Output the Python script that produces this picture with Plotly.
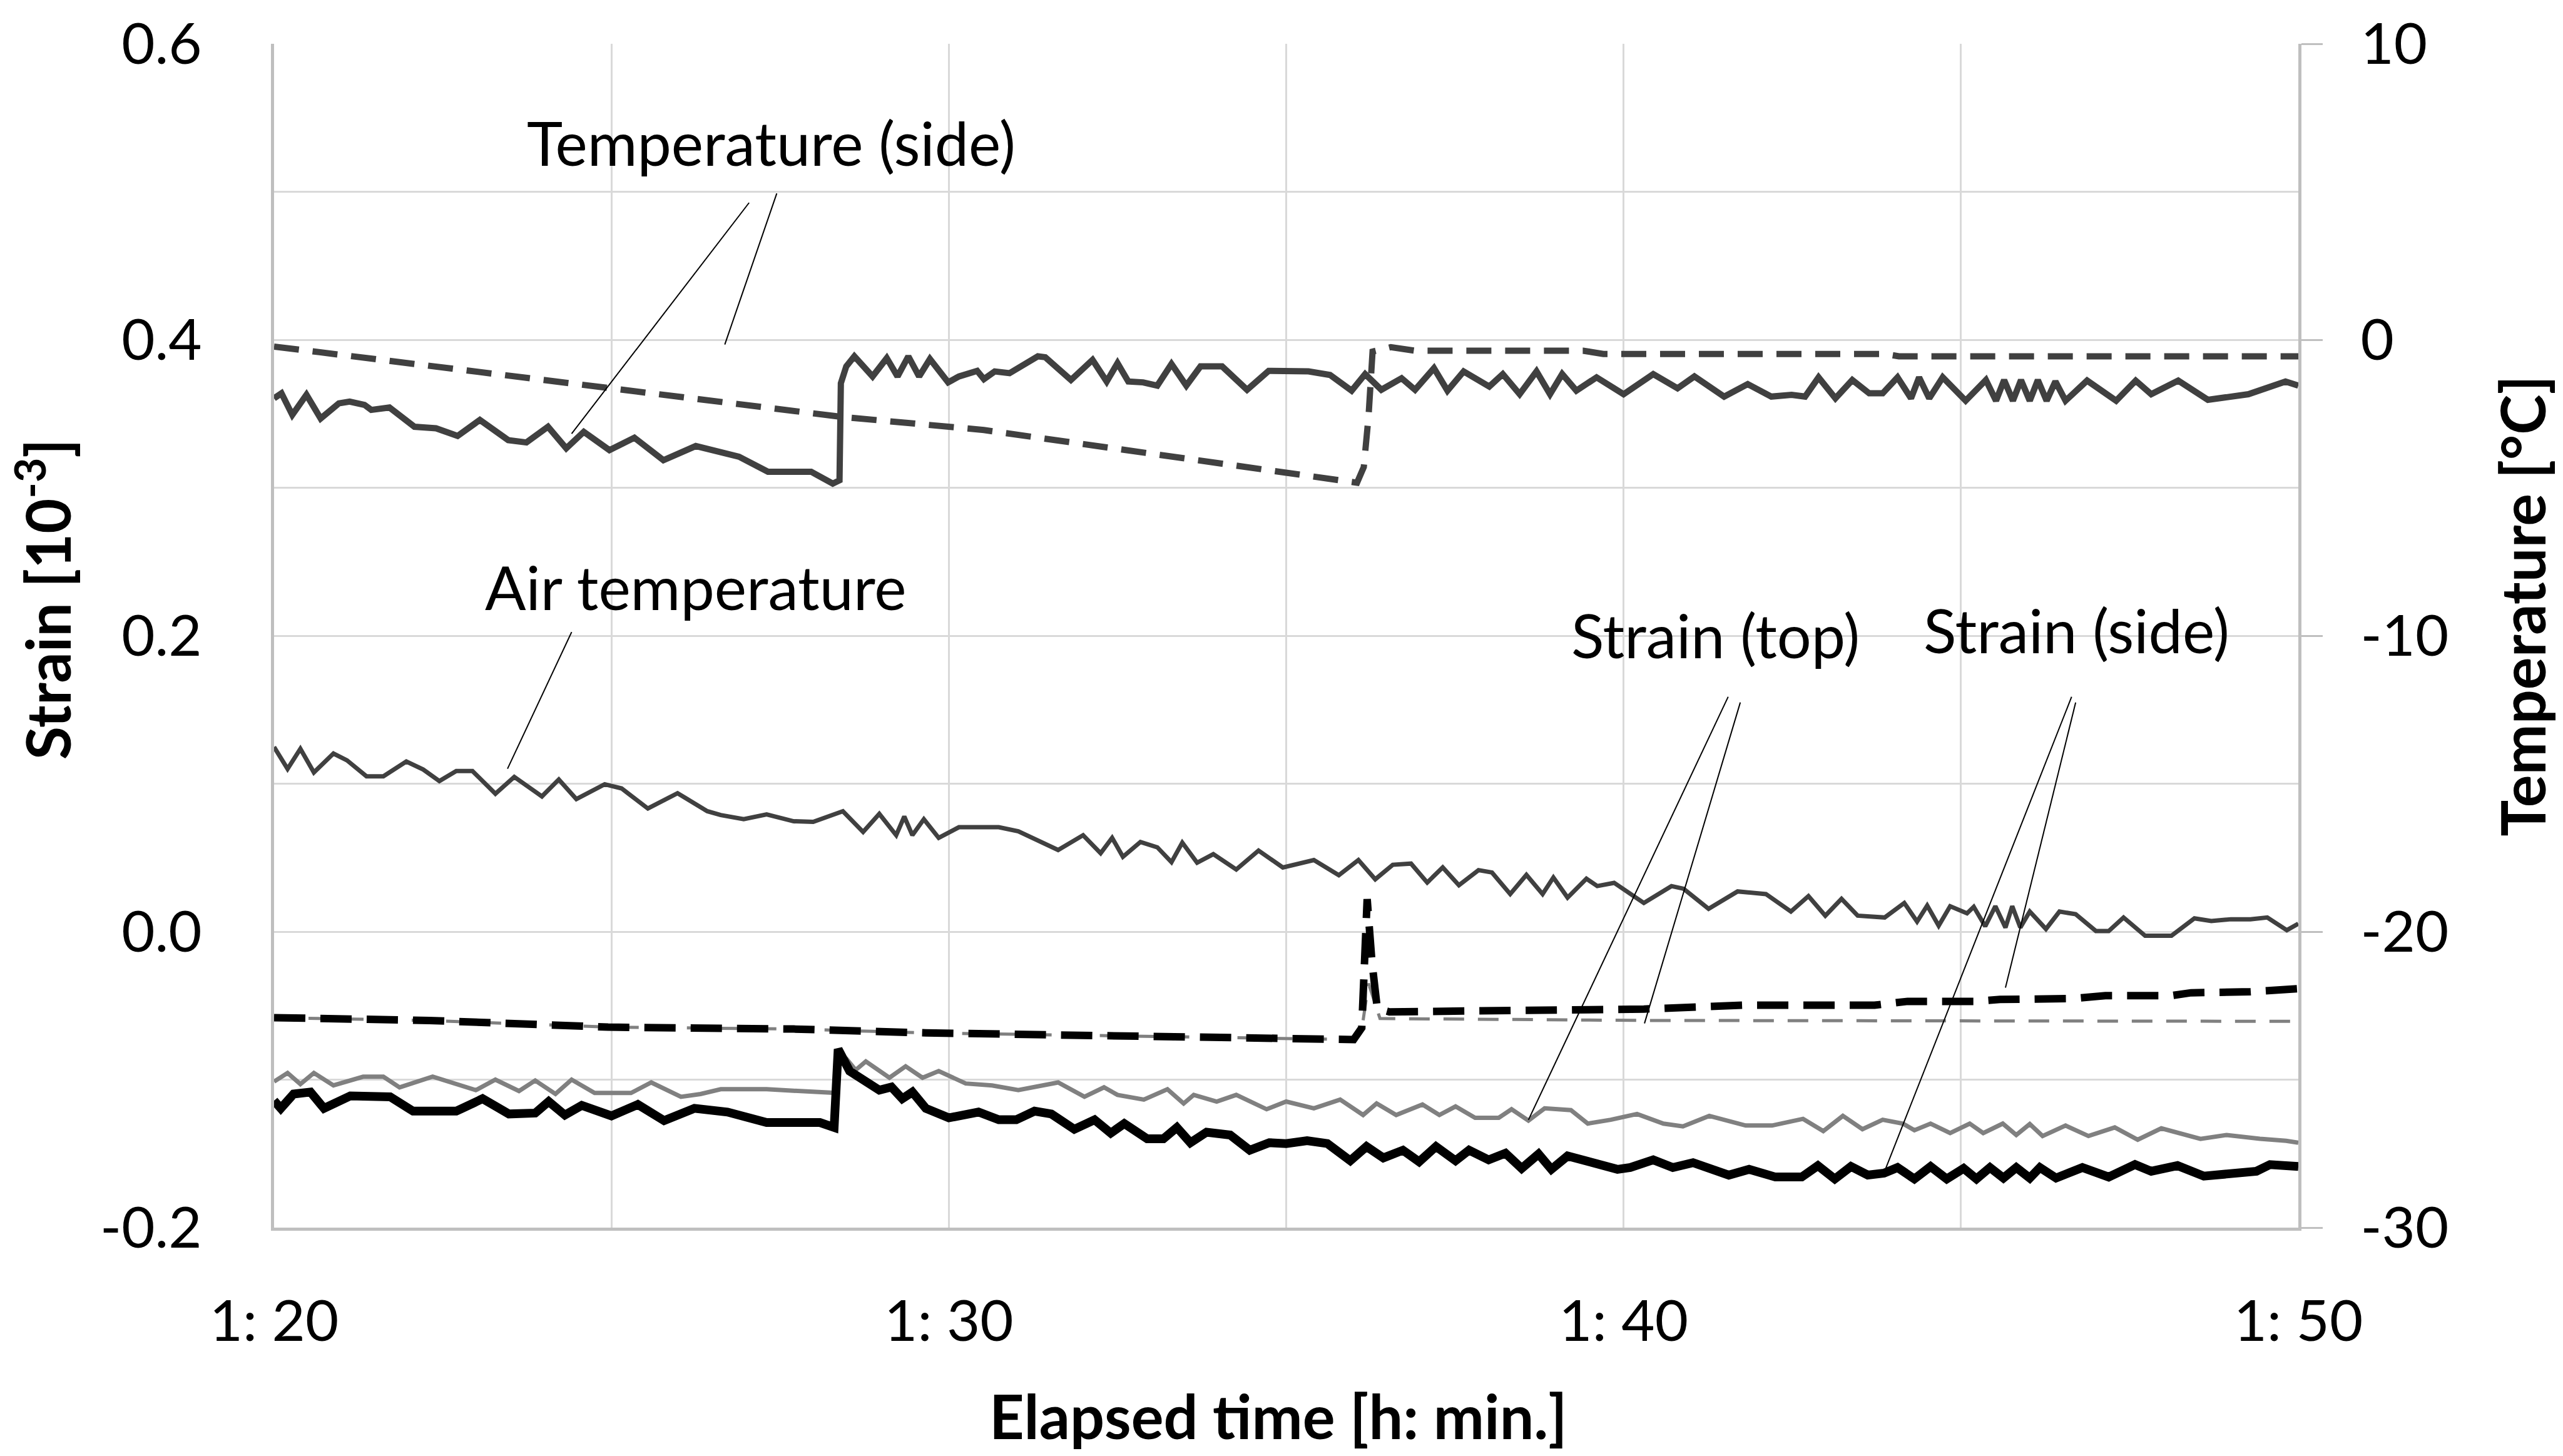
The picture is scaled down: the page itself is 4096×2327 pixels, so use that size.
import plotly.graph_objects as go

# ---------------- data (time = minutes after 1:20) ----------------
temp_side_solid_t = [0, 0.11, 0.27, 0.48, 0.69, 0.96, 1.12, 1.34, 1.44, 1.71, 2.08, 2.40, 2.72, 3.05, 3.47, 3.74,
                     4.06, 4.33, 4.59, 4.97, 5.34, 5.77, 6.25, 6.57, 6.89, 7.32, 7.96, 8.28, 8.38, 8.40, 8.48,
                     8.60, 8.87, 9.08, 9.24, 9.40, 9.56, 9.72, 9.99, 10.15, 10.42, 10.52, 10.68, 10.90, 11.32,
                     11.43, 11.81, 12.13, 12.34, 12.50, 12.66, 12.88, 13.09, 13.30, 13.52, 13.73, 14.05, 14.42,
                     14.74, 15.33, 15.65, 15.97, 16.17, 16.41, 16.71, 16.91, 17.19, 17.39, 17.63, 18.01, 18.21,
                     18.46, 18.71, 18.91, 19.09, 19.30, 19.60, 20.00, 20.44, 20.80, 21.05, 21.49, 21.84, 22.19,
                     22.49, 22.69, 22.89, 23.14, 23.39, 23.64, 23.84, 24.06, 24.26, 24.38, 24.53, 24.73, 25.07,
                     25.37, 25.52, 25.64, 25.77, 25.89, 26.02, 26.14, 26.27, 26.40, 26.55, 26.87, 27.30, 27.59,
                     27.82, 28.22, 28.66, 29.26, 29.81, 30.0]
temp_side_solid = [-1.98, -1.81, -2.54, -1.86, -2.66, -2.15, -2.09, -2.20, -2.37, -2.29, -2.94, -2.99, -3.25, -2.71,
                   -3.39, -3.47, -2.94, -3.67, -3.11, -3.73, -3.31, -4.07, -3.59, -3.79, -3.95, -4.46, -4.46, -4.86,
                   -4.75, -1.47, -0.90, -0.56, -1.24, -0.62, -1.24, -0.56, -1.24, -0.65, -1.44, -1.24, -1.05, -1.33,
                   -1.07, -1.13, -0.56, -0.59, -1.36, -0.68, -1.41, -0.79, -1.41, -1.44, -1.55, -0.82, -1.55, -0.90,
                   -0.90, -1.69, -1.05, -1.07, -1.19, -1.72, -1.16, -1.69, -1.30, -1.69, -0.96, -1.72, -1.07, -1.58,
                   -1.16, -1.84, -1.07, -1.84, -1.16, -1.72, -1.27, -1.84, -1.16, -1.64, -1.24, -1.92, -1.50, -1.92,
                   -1.86, -1.92, -1.27, -1.98, -1.36, -1.81, -1.81, -1.27, -1.98, -1.27, -1.98, -1.27, -2.06, -1.36,
                   -2.06, -1.36, -2.06, -1.36, -2.06, -1.36, -2.06, -1.41, -2.06, -1.38, -2.06, -1.38, -1.84, -1.38,
                   -2.03, -1.84, -1.41, -1.55]

temp_side_dash_t = [0, 4.97, 8.39, 10.52, 15.87, 16.05, 16.15, 16.22, 16.28, 16.55, 16.91, 19.40, 19.70, 23.88,
                    24.08, 30.0]
temp_side_dash = [-0.23, -1.64, -2.60, -3.05, -4.75, -4.83, -4.30, -2.60, -0.40, -0.25, -0.37, -0.37, -0.48,
                  -0.48, -0.56, -0.56]

air_temp_t = [0, 0.20, 0.39, 0.59, 0.88, 1.08, 1.37, 1.62, 1.96, 2.21, 2.45, 2.70, 2.94, 3.28, 3.56, 3.97, 4.22,
              4.48, 4.90, 5.15, 5.54, 5.98, 6.42, 6.62, 6.96, 7.30, 7.70, 7.99, 8.43, 8.73, 8.97, 9.22, 9.34,
              9.46, 9.63, 9.85, 10.15, 10.74, 11.03, 11.62, 11.99, 12.25, 12.42, 12.58, 12.84, 13.09, 13.30,
              13.46, 13.68, 13.92, 14.26, 14.59, 14.95, 15.41, 15.78, 16.07, 16.32, 16.58, 16.85, 17.09, 17.32,
              17.56, 17.85, 18.05, 18.32, 18.56, 18.80, 18.96, 19.17, 19.45, 19.61, 19.86, 20.30, 20.71, 20.89,
              21.26, 21.69, 22.11, 22.48, 22.74, 22.99, 23.23, 23.47, 23.87, 24.16, 24.35, 24.50, 24.67, 24.84,
              25.09, 25.19, 25.36, 25.51, 25.66, 25.76, 25.88, 26.02, 26.26, 26.46, 26.70, 27.00, 27.19, 27.41,
              27.73, 28.12, 28.46, 28.71, 29.00, 29.29, 29.54, 29.83, 30.0]
air_temp = [-13.76, -14.50, -13.82, -14.62, -13.98, -14.21, -14.75, -14.75, -14.25, -14.52, -14.91, -14.57, -14.57,
            -15.34, -14.77, -15.43, -14.86, -15.52, -15.02, -15.16, -15.84, -15.32, -15.93, -16.06, -16.20, -16.04,
            -16.27, -16.29, -15.93, -16.63, -16.02, -16.74, -16.11, -16.74, -16.20, -16.83, -16.47, -16.47, -16.61,
            -17.24, -16.74, -17.35, -16.83, -17.47, -16.97, -17.15, -17.65, -16.99, -17.67, -17.38, -17.90, -17.26,
            -17.83, -17.58, -18.09, -17.58, -18.23, -17.74, -17.70, -18.34, -17.83, -18.43, -17.92, -18.00, -18.73,
            -18.08, -18.73, -18.17, -18.85, -18.21, -18.46, -18.35, -19.03, -18.46, -18.55, -19.23, -18.64, -18.73,
            -19.32, -18.80, -19.46, -18.89, -19.46, -19.52, -19.03, -19.66, -19.12, -19.80, -19.14, -19.38, -19.16,
            -19.82, -19.14, -19.86, -19.14, -19.86, -19.32, -19.91, -19.32, -19.41, -19.98, -19.98, -19.52, -20.14,
            -20.14, -19.55, -19.64, -19.58, -19.58, -19.52, -19.95, -19.73]

strain_top_solid_t = [0, 0.20, 0.39, 0.59, 0.88, 1.32, 1.62, 1.86, 2.35, 2.99, 3.28, 3.63, 3.87, 4.17, 4.41, 4.75,
                      5.29, 5.59, 6.03, 6.32, 6.62, 7.30, 7.70, 8.28, 8.34, 8.38, 8.48, 8.62, 8.77, 9.12, 9.36,
                      9.61, 9.85, 10.25, 10.64, 11.03, 11.62, 12.01, 12.30, 12.50, 12.89, 13.24, 13.48, 13.63,
                      13.97, 14.26, 14.71, 15.00, 15.41, 15.80, 16.14, 16.34, 16.63, 17.02, 17.27, 17.51, 17.80,
                      18.15, 18.34, 18.59, 18.83, 19.22, 19.47, 19.81, 20.20, 20.59, 20.88, 21.27, 21.81, 22.20,
                      22.66, 22.96, 23.25, 23.54, 23.84, 24.14, 24.31, 24.55, 24.84, 25.13, 25.33, 25.62, 25.82,
                      26.02, 26.21, 26.55, 26.89, 27.28, 27.62, 27.97, 28.55, 28.94, 29.43, 29.82, 30.0]
strain_top_solid = [-0.1013, -0.0955, -0.1030, -0.0955, -0.1039, -0.0980, -0.0980, -0.1052, -0.0980, -0.1071,
                    -0.1000, -0.1077, -0.1006, -0.1097, -0.1000, -0.1090, -0.1090, -0.1019, -0.1116, -0.1097,
                    -0.1065, -0.1065, -0.1075, -0.1090, -0.1090, -0.0830, -0.0858, -0.0935, -0.0877, -0.0987,
                    -0.0910, -0.0987, -0.0942, -0.1026, -0.1039, -0.1071, -0.1019, -0.1116, -0.1052, -0.1103,
                    -0.1135, -0.1065, -0.1161, -0.1103, -0.1148, -0.1103, -0.1200, -0.1148, -0.1194, -0.1135,
                    -0.1239, -0.1161, -0.1239, -0.1168, -0.1239, -0.1181, -0.1258, -0.1258, -0.1200, -0.1277,
                    -0.1194, -0.1206, -0.1297, -0.1271, -0.1232, -0.1297, -0.1316, -0.1245, -0.1310, -0.1310,
                    -0.1265, -0.1348, -0.1245, -0.1335, -0.1271, -0.1297, -0.1342, -0.1297, -0.1361, -0.1297,
                    -0.1361, -0.1297, -0.1374, -0.1300, -0.1381, -0.1310, -0.1381, -0.1323, -0.1406, -0.1329,
                    -0.1400, -0.1374, -0.1400, -0.1413, -0.1426]

strain_side_solid_t = [0, 0.10, 0.29, 0.54, 0.74, 1.13, 1.72, 2.06, 2.70, 3.09, 3.48, 3.87, 4.07, 4.31, 4.56, 5.00,
                       5.39, 5.78, 6.23, 6.72, 7.30, 8.09, 8.30, 8.36, 8.53, 8.75, 8.97, 9.15, 9.31, 9.46, 9.66,
                       10.00, 10.44, 10.74, 11.00, 11.27, 11.52, 11.86, 12.16, 12.40, 12.60, 12.94, 13.18, 13.38,
                       13.58, 13.82, 14.17, 14.46, 14.75, 15.00, 15.31, 15.61, 15.95, 16.19, 16.44, 16.73, 16.97,
                       17.22, 17.51, 17.71, 18.00, 18.25, 18.49, 18.74, 18.93, 19.17, 19.42, 19.91, 20.10, 20.44,
                       20.73, 21.03, 21.56, 21.86, 22.25, 22.64, 22.88, 23.13, 23.37, 23.62, 23.86, 24.06, 24.31,
                       24.55, 24.79, 25.04, 25.23, 25.43, 25.63, 25.82, 26.02, 26.17, 26.41, 26.80, 27.19, 27.58,
                       27.82, 28.21, 28.60, 28.99, 29.38, 29.58, 30.0]
strain_side_solid = [-0.1142, -0.1194, -0.1097, -0.1084, -0.1194, -0.1110, -0.1116, -0.1213, -0.1213, -0.1129,
                     -0.1232, -0.1226, -0.1148, -0.1239, -0.1174, -0.1245, -0.1168, -0.1277, -0.1194, -0.1219,
                     -0.1290, -0.1290, -0.1323, -0.0794, -0.0942, -0.1010, -0.1071, -0.1050, -0.1129, -0.1084,
                     -0.1194, -0.1258, -0.1219, -0.1271, -0.1271, -0.1213, -0.1232, -0.1335, -0.1271, -0.1361,
                     -0.1297, -0.1400, -0.1400, -0.1323, -0.1426, -0.1355, -0.1374, -0.1477, -0.1426, -0.1432,
                     -0.1413, -0.1432, -0.1548, -0.1452, -0.1529, -0.1477, -0.1555, -0.1452, -0.1548, -0.1477,
                     -0.1542, -0.1497, -0.1600, -0.1503, -0.1606, -0.1516, -0.1542, -0.1606, -0.1594, -0.1542,
                     -0.1594, -0.1561, -0.1645, -0.1606, -0.1658, -0.1658, -0.1581, -0.1671, -0.1587, -0.1645,
                     -0.1632, -0.1594, -0.1671, -0.1587, -0.1671, -0.1600, -0.1671, -0.1594, -0.1665, -0.1594,
                     -0.1665, -0.1594, -0.1665, -0.1594, -0.1658, -0.1574, -0.1619, -0.1581, -0.1652, -0.1632,
                     -0.1619, -0.1574, -0.1587]

strain_side_dash_t = [0, 2.30, 4.95, 7.70, 9.66, 12.10, 15.00, 16.00, 16.12, 16.20, 16.27, 16.35, 16.53, 18.83,
                      20.30, 21.77, 23.72, 24.21, 25.19, 25.58, 26.65, 27.14, 28.12, 28.41, 29.29, 30.0]
strain_side_dash = [-0.0581, -0.0600, -0.0645, -0.0658, -0.0684, -0.0703, -0.0723, -0.0729, -0.0650, 0.0220,
                    -0.0200, -0.0520, -0.0542, -0.0535, -0.0523, -0.0497, -0.0497, -0.0471, -0.0471, -0.0458,
                    -0.0452, -0.0432, -0.0432, -0.0413, -0.0406, -0.0385]

strain_top_dash_t = [0, 2.30, 4.95, 7.70, 9.66, 12.10, 15.00, 16.00, 16.14, 16.22, 16.39, 20.30, 30.0]
strain_top_dash = [-0.0581, -0.0600, -0.0645, -0.0658, -0.0684, -0.0703, -0.0723, -0.0729, -0.0600, -0.0350,
                   -0.0587, -0.0600, -0.0606]

x_tick_vals = [0, 10, 20, 30]
x_tick_text = ["1: 20", "1: 30", "1: 40", "1: 50"]
strain_tick_vals = [-0.2, 0.0, 0.2, 0.4, 0.6]
strain_tick_text = ["-0.2", "0.0", "0.2", "0.4", "0.6"]
temp_tick_vals = [-30, -20, -10, 0, 10]
temp_tick_text = ["-30", "-20", "-10", "0", "10"]

# labels: (text, x, y)
labels = [("Temperature (side)", 7.37, 0.5335),
          ("Air temperature", 6.25, 0.233),
          ("Strain (top)", 21.36, 0.2005),
          ("Strain (side)", 26.71, 0.204)]
# leader lines: (x0, y0, x1, y1) in data coords (strain axis)
leaders = [(7.04, 0.4926, 4.41, 0.3365),
           (7.45, 0.4989, 6.68, 0.3968),
           (4.41, 0.2025, 3.46, 0.1101),
           (21.55, 0.1587, 18.59, -0.1272),
           (21.73, 0.1549, 20.31, -0.0620),
           (26.64, 0.1587, 23.86, -0.1629),
           (26.70, 0.1549, 25.66, -0.0378)]

FONT = "Lato"
DARK = "#404040"
GRAY = "#808080"
GRID = "#d9d9d9"
AXIS = "#bfbfbf"

fig = go.Figure()
fig.add_trace(go.Scatter(x=air_temp_t, y=air_temp, yaxis="y2", mode="lines",
                         line=dict(color=DARK, width=7)))
fig.add_trace(go.Scatter(x=temp_side_dash_t, y=temp_side_dash, yaxis="y2", mode="lines",
                         line=dict(color=DARK, width=10, dash="40px,22px")))
fig.add_trace(go.Scatter(x=temp_side_solid_t, y=temp_side_solid, yaxis="y2", mode="lines",
                         line=dict(color=DARK, width=10)))
fig.add_trace(go.Scatter(x=strain_top_dash_t, y=strain_top_dash, mode="lines",
                         line=dict(color=GRAY, width=5, dash="33px,22px")))
fig.add_trace(go.Scatter(x=strain_side_dash_t, y=strain_side_dash, mode="lines",
                         line=dict(color="#000000", width=12, dash="50px,24px")))
fig.add_trace(go.Scatter(x=strain_top_solid_t, y=strain_top_solid, mode="lines",
                         line=dict(color=GRAY, width=7)))
fig.add_trace(go.Scatter(x=strain_side_solid_t, y=strain_side_solid, mode="lines",
                         line=dict(color="#000000", width=14)))

for (x0, y0, x1, y1) in leaders:
    fig.add_shape(type="line", xref="x", yref="y", x0=x0, y0=y0, x1=x1, y1=y1,
                  line=dict(color="#000000", width=2))

for (txt, x, y) in labels:
    fig.add_annotation(text=txt, x=x, y=y, xref="x", yref="y", showarrow=False,
                       xanchor="center", yanchor="middle",
                       font=dict(family=FONT, size=97, color="#000000"))

TITLE_SIZE = 97
fig.add_annotation(text="<b>Strain [10<sup>-3</sup>]</b>", xref="paper", yref="paper",
                   x=-0.1138, y=0.531, textangle=-90, showarrow=False,
                   xanchor="center", yanchor="middle",
                   font=dict(family=FONT, size=TITLE_SIZE, color="#000000"))
fig.add_annotation(text="<b>Temperature [°C]</b>", xref="paper", yref="paper",
                   x=1.1107, y=0.525, textangle=-90, showarrow=False,
                   xanchor="center", yanchor="middle",
                   font=dict(family=FONT, size=TITLE_SIZE, color="#000000"))
fig.add_annotation(text="<b>Elapsed time [h: min.]</b>", xref="paper", yref="paper",
                   x=0.4961, y=-0.159, showarrow=False,
                   xanchor="center", yanchor="middle",
                   font=dict(family=FONT, size=TITLE_SIZE, color="#000000"))

TICK = dict(family=FONT, size=92, color="#000000")
fig.update_layout(
    width=4096, height=2327, autosize=False,
    margin=dict(l=438, r=423, t=70, b=365, pad=0),
    paper_bgcolor="white", plot_bgcolor="white",
    showlegend=False,
    font=dict(family=FONT, size=92, color="#000000"),
    xaxis=dict(range=[0, 30], tickvals=x_tick_vals, ticktext=x_tick_text,
               showgrid=True, gridcolor=GRID, gridwidth=3,
               minor=dict(dtick=5, showgrid=True, gridcolor=GRID, gridwidth=3),
               showline=True, linecolor=AXIS, linewidth=5, zeroline=False,
               ticks="", ticklabelstandoff=66, tickfont=TICK),
    yaxis=dict(range=[-0.2, 0.6], tickvals=strain_tick_vals, ticktext=strain_tick_text,
               showgrid=True, gridcolor=GRID, gridwidth=3,
               minor=dict(dtick=0.1, showgrid=True, gridcolor=GRID, gridwidth=3),
               showline=True, linecolor=AXIS, linewidth=5, zeroline=False,
               ticks="", ticklabelstandoff=92, tickfont=TICK),
    yaxis2=dict(range=[-30, 10], tickvals=temp_tick_vals, ticktext=temp_tick_text,
                overlaying="y", side="right",
                showgrid=False, zeroline=False,
                showline=True, linecolor=AXIS, linewidth=5,
                ticks="outside", ticklen=34, tickwidth=3, tickcolor=AXIS,
                ticklabelstandoff=42, tickfont=TICK),
)

fig.write_html("out.html")
